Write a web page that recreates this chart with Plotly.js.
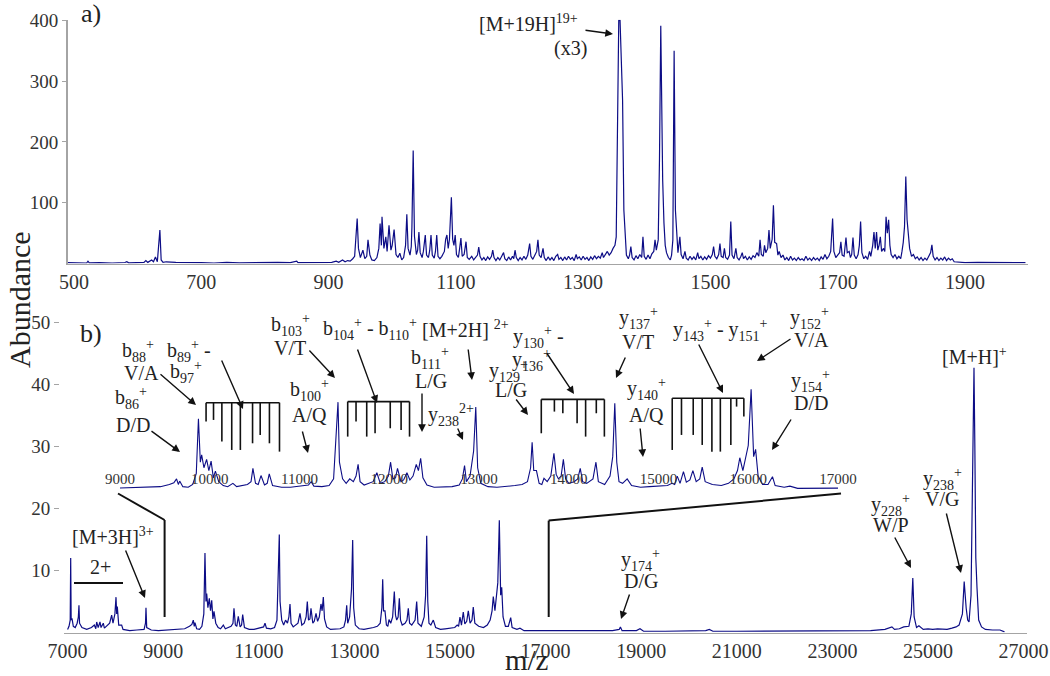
<!DOCTYPE html>
<html>
<head>
<meta charset="utf-8">
<script src="https://cdn.plot.ly/plotly-3.0.1.min.js"></script>
<style>
  html, body { margin: 0; padding: 0; background: #fff; }
  #plot { width: 1050px; height: 676px; }
</style>
</head>
<body>
<div id="plot"></div>
<script>
// a) low mass region, [m/z, abundance]
const topSpectrum = [
  [490,1.5],[500,1.2],[510,1.8],[520,1],[522,4],[524,1.2],[540,1.5],[560,1],[580,1.8],[583,3],
  [586,1.2],[600,1.5],[610,2],[613,5],[616,2],[622,6],[625,3],[628,11],[631,3],[635,55],
  [637,6],[640,2],[645,3],[660,2],[680,1.2],[700,1.5],[720,1],[740,2],[760,1.2],[780,1.8],
  [800,1.2],[820,2],[840,1.5],[850,4],[852,1.5],[870,2],[890,1.5],[900,3],[905,2],[912,4],
  [916,2],[922,6],[926,3],[930,5],[934,4],[938,8],[941,12],[945,74],[947,25],[950,10],
  [954,22],[957,8],[960,12],[962,39],[965,14],[968,6],[972,5],[976,10],[979,25],[981,66],
  [983,30],[984,77],[987,25],[990,44],[992,20],[995,63],[998,22],[1000,30],[1003,56],[1006,15],
  [1009,10],[1012,17],[1015,6],[1018,10],[1021,30],[1023,81],[1025,25],[1028,14],[1030,28],[1031,60],
  [1033,186],[1035,45],[1038,15],[1040,22],[1042,52],[1044,18],[1047,10],[1049,20],[1052,47],[1054,14],
  [1057,10],[1059,22],[1061,47],[1063,14],[1066,9],[1068,20],[1070,47],[1072,12],[1075,8],[1078,12],
  [1082,20],[1084,40],[1086,47],[1088,25],[1090,40],[1093,109],[1095,40],[1097,30],[1099,47],[1101,15],
  [1104,10],[1106,25],[1108,42],[1110,12],[1113,15],[1116,36],[1118,10],[1121,7],[1125,12],[1128,6],
  [1131,10],[1134,14],[1136,27],[1138,12],[1141,6],[1144,10],[1147,5],[1150,11],[1153,7],[1156,12],
  [1158,22],[1160,10],[1163,5],[1166,10],[1169,6],[1172,12],[1175,18],[1177,8],[1180,5],[1183,11],
  [1186,6],[1189,12],[1191,8],[1193,22],[1195,10],[1198,5],[1201,10],[1204,6],[1207,12],[1210,7],
  [1213,14],[1216,33],[1218,12],[1221,7],[1224,13],[1227,20],[1229,39],[1231,14],[1234,10],[1237,25],
  [1239,10],[1242,5],[1245,11],[1248,6],[1251,10],[1254,5],[1257,12],[1260,15],[1262,7],[1265,10],
  [1268,5],[1271,11],[1274,6],[1277,12],[1280,7],[1283,10],[1286,5],[1289,15],[1291,8],[1294,11],
  [1297,6],[1300,12],[1303,7],[1306,10],[1309,5],[1312,11],[1315,7],[1318,13],[1321,8],[1324,12],
  [1327,9],[1330,18],[1332,10],[1335,14],[1338,20],[1341,14],[1344,18],[1347,25],[1350,30],[1352,44],
  [1354,247],[1356,400],[1358,400],[1360,324],[1362,269],[1364,88],[1366,40],[1368,14],[1371,8],[1373,14],
  [1375,28],[1377,10],[1380,6],[1383,13],[1386,8],[1389,15],[1392,10],[1394,44],[1396,12],[1399,7],
  [1402,14],[1405,8],[1408,16],[1411,20],[1413,39],[1415,22],[1418,39],[1420,173],[1422,391],[1424,192],
  [1425,137],[1427,67],[1429,30],[1431,18],[1434,10],[1437,6],[1439,14],[1441,39],[1442,170],[1443,350],
  [1445,88],[1447,40],[1449,18],[1452,44],[1454,15],[1457,8],[1460,20],[1462,9],[1465,6],[1468,12],
  [1471,7],[1474,11],[1477,6],[1480,18],[1482,8],[1485,12],[1488,6],[1491,11],[1494,7],[1497,13],
  [1500,9],[1503,15],[1505,28],[1507,12],[1510,8],[1513,15],[1515,33],[1517,12],[1520,10],[1522,25],
  [1524,10],[1527,7],[1530,14],[1532,69],[1534,14],[1537,8],[1540,25],[1542,10],[1545,6],[1548,12],
  [1550,18],[1552,8],[1555,12],[1558,6],[1561,11],[1564,7],[1567,13],[1570,10],[1573,18],[1576,12],
  [1578,39],[1580,15],[1583,12],[1585,30],[1587,18],[1590,25],[1592,55],[1594,25],[1597,40],[1599,96],
  [1601,35],[1604,33],[1606,14],[1608,20],[1611,10],[1614,14],[1617,6],[1620,10],[1623,5],[1626,12],
  [1629,6],[1632,9],[1635,5],[1638,10],[1641,6],[1644,8],[1647,5],[1650,12],[1653,6],[1656,9],
  [1659,5],[1662,10],[1665,6],[1668,9],[1671,5],[1674,11],[1677,7],[1680,15],[1683,8],[1686,12],
  [1689,20],[1692,74],[1694,20],[1697,10],[1700,14],[1703,18],[1705,36],[1707,14],[1710,12],[1713,43],
  [1715,18],[1718,20],[1720,10],[1722,15],[1724,43],[1726,14],[1729,8],[1732,15],[1734,30],[1736,69],
  [1738,18],[1741,8],[1744,12],[1747,7],[1750,20],[1752,12],[1755,30],[1757,52],[1759,25],[1761,52],
  [1763,22],[1765,30],[1767,44],[1769,20],[1772,25],[1774,20],[1776,77],[1778,50],[1780,72],[1782,30],
  [1784,15],[1787,10],[1790,15],[1793,8],[1796,12],[1799,8],[1801,20],[1803,35],[1805,61],[1807,143],
  [1809,72],[1811,40],[1813,25],[1816,12],[1819,15],[1822,8],[1825,11],[1828,6],[1831,10],[1834,5],
  [1837,9],[1840,6],[1843,11],[1846,18],[1848,31],[1850,12],[1853,6],[1856,10],[1859,5],[1862,9],
  [1865,6],[1868,11],[1871,5],[1874,9],[1877,6],[1880,8],[1883,3],[1890,2],[1900,1.5],[1920,2],
  [1940,1.5],[1960,2],[1980,1.5],[1995,1.5]
];

// b) high mass region, [m/z, abundance]
const bottomSpectrum = [
  [7000,0.5],[7030,1],[7055,2],[7065,12],[7075,2],[7092,2.3],[7120,1],[7160,0.8],[7200,1.5],[7225,2.5],
  [7238,4.4],[7250,1.5],[7300,0.8],[7400,0.5],[7500,0.8],[7560,1.2],[7590,0.6],[7609,1.7],[7640,0.8],[7678,1.7],
  [7700,0.8],[7747,1.5],[7770,0.7],[7820,1],[7880,1.5],[7922,2.8],[7950,1.5],[7990,3],[8013,5.7],[8027,3],
  [8040,4.2],[8070,1.2],[8131,1.2],[8160,0.5],[8300,0.3],[8450,0.4],[8600,0.5],[8630,1.5],[8640,4],[8655,0.8],
  [8750,0.4],[8900,0.3],[9100,0.4],[9300,0.5],[9450,0.6],[9550,1],[9600,1.3],[9630,2],[9650,1],[9665,1.6],
  [9700,0.6],[9760,0.5],[9810,1],[9850,3],[9874,12.8],[9895,5],[9910,6.3],[9935,4],[9965,5.5],[9990,3.5],
  [10015,5.2],[10040,2.2],[10063,3.4],[10100,1.5],[10150,0.8],[10200,0.6],[10258,1.2],[10300,0.6],[10350,0.8],[10420,1],
  [10460,1.5],[10481,3.9],[10510,1.2],[10540,1],[10571,2.6],[10610,0.9],[10640,1.2],[10663,2.9],[10700,0.8],[10800,0.5],
  [10900,0.5],[11000,0.7],[11100,0.9],[11130,1.5],[11160,0.7],[11250,0.6],[11330,0.8],[11380,2],[11400,7],[11408,10.6],
  [11429,15.8],[11445,5],[11480,2],[11520,1.2],[11560,2],[11600,1.5],[11630,2.5],[11653,4.6],[11675,1.5],[11720,0.9],
  [11780,1.2],[11820,1.5],[11862,3.1],[11900,1.2],[11950,1.5],[11990,2.5],[12015,5],[12040,2],[12070,2.2],[12092,3.9],
  [12130,1.5],[12160,1.8],[12197,3.1],[12230,1.8],[12265,2.5],[12301,4.6],[12325,3.5],[12350,5.7],[12375,2.2],[12420,0.9],
  [12500,0.5],[12600,0.5],[12700,0.6],[12780,0.9],[12815,2],[12839,4.4],[12860,1.5],[12900,2.5],[12940,7],[12964,14.9],
  [12985,4],[13020,1.2],[13100,0.6],[13200,0.5],[13300,0.6],[13400,0.8],[13480,1],[13540,1.5],[13575,4],[13592,8.6],
  [13610,3.5],[13640,3.5],[13670,1.2],[13700,1],[13724,2.1],[13760,1.5],[13800,2.5],[13835,6.6],[13860,2.8],[13885,2],
  [13915,2.5],[13940,5.5],[13965,2],[14000,1.2],[14060,1.5],[14100,2],[14128,3.9],[14155,1.5],[14200,1.2],[14270,2],
  [14303,5],[14330,1.5],[14400,1],[14460,2.5],[14490,6],[14513,15.6],[14535,5],[14560,1.5],[14600,1.2],[14651,2],
  [14700,0.8],[14800,0.5],[14900,0.6],[15000,0.7],[15100,0.8],[15150,1.2],[15180,1],[15209,2.5],[15240,1.2],[15278,3.3],
  [15310,1.4],[15350,1.8],[15383,3.5],[15420,1.5],[15460,2],[15487,4.1],[15520,1.5],[15600,1],[15700,0.8],[15780,1.2],
  [15840,2],[15880,3.5],[15906,5.8],[15940,3.5],[15977,6.3],[16000,8],[16032,18.1],[16060,6],[16082,7.3],[16110,2.5],
  [16160,1],[16220,1],[16270,2.4],[16300,0.8],[16400,0.5],[16464,0.7],[16550,0.3],[16700,0.3],[16900,0.3],[17100,0.2],
  [17500,0.2],[18000,0.2],[18400,0.3],[18540,0.5],[18565,0.9],[18600,0.3],[18900,0.3],[18975,0.6],[19050,0.2],[19500,0.2],
  [20000,0.2],[20350,0.3],[20425,0.5],[20500,0.2],[21000,0.2],[22000,0.2],[23000,0.2],[23800,0.3],[24100,0.5],[24245,0.9],
  [24300,0.5],[24400,0.6],[24492,0.9],[24600,1],[24650,3],[24682,8.8],[24710,2.5],[24760,0.8],[24810,1.1],[24900,0.5],
  [25000,0.6],[25100,0.5],[25200,0.6],[25270,0.6],[25400,0.5],[25500,0.7],[25588,0.9],[25650,1.2],[25720,3],[25757,8.2],
  [25780,5],[25799,3.9],[25830,2],[25858,1.7],[25900,6],[25925,20],[25945,35],[25962,42.7],[25980,30],[26000,12],
  [26025,7.2],[26060,2],[26120,0.9],[26200,0.5],[26350,0.4],[26506,0.4],[26600,0.1]
];

// fragment ladders drawn over the inset: m/z of each rung, its lower end, and the bar level
const ladderB89 = [9959,10042,10135,10245,10341,10477,10562,10665,10777];
const ladderB89Low = [12.3,12.6,8.7,7.2,7.2,8.4,9.9,8.4,6.9];
const ladderB104 = [11537,11630,11749,11842,12011,12132,12226];
const ladderB104Low = [9.6,12.3,9.6,10.2,11.1,10.8,9.6];
const ladderY130 = [13694,13840,13934,14093,14188,14307,14397];
const ladderY130Low = [10.2,14.1,13.8,12,9.6,13.8,9.6];
const ladderY143 = [15153,15256,15387,15487,15595,15689,15806,15870,15951];
const ladderY143Low = [7.2,9.9,9.9,8.1,6.9,6.9,8.1,15,13.2];
const ladderTops = [15.7, 15.9, 16.3, 16.5];

const topTicks = [500,700,900,1100,1300,1500,1700,1900];
const bottomTicks = [7000,9000,11000,13000,15000,17000,19000,21000,23000,25000,27000];
const insetTicks = [9000,10000,11000,12000,13000,14000,15000,16000,17000];

const W = 1050, H = 676;
const px = x => x / W;
const py = y => 1 - y / H;
const navy = '#0d0d86';
const grey = '#a4a4a4';
const serif = 'Liberation Serif';

// build ladder line (bar on top, rungs hanging down)
let ladX = [], ladY = [];
[[ladderB89, ladderB89Low], [ladderB104, ladderB104Low], [ladderY130, ladderY130Low], [ladderY143, ladderY143Low]]
  .forEach(([mz, low], k) => {
    let top = ladderTops[k];
    ladX.push(mz[0], mz[mz.length - 1], null);
    ladY.push(top, top, null);
    for (let i = 0; i < mz.length; i++) {
      ladX.push(mz[i], mz[i], null);
      ladY.push(top, low[i], null);
    }
  });

let data = [
  {x: topSpectrum.map(p => p[0]), y: topSpectrum.map(p => p[1]), xaxis: 'x', yaxis: 'y',
   type: 'scatter', mode: 'lines', line: {color: navy, width: 1.2}, hoverinfo: 'skip'},
  {x: bottomSpectrum.map(p => p[0]), y: bottomSpectrum.map(p => p[1]), xaxis: 'x2', yaxis: 'y2',
   type: 'scatter', mode: 'lines', line: {color: navy, width: 1.2}, hoverinfo: 'skip'},
  {x: bottomSpectrum.map(p => p[0]), y: bottomSpectrum.map(p => p[1]), xaxis: 'x3', yaxis: 'y3',
   type: 'scatter', mode: 'lines', line: {color: navy, width: 1.1}, hoverinfo: 'skip'},
  {x: ladX, y: ladY, xaxis: 'x3', yaxis: 'y3', type: 'scatter', mode: 'lines',
   line: {color: '#111', width: 1.6}, hoverinfo: 'skip'}
];

// text labels: [text, x px, y px]
const labels = [
  ['[M+19H]<sup>19+</sup>', 528, 23], ['(x3)', 570, 49],
  ['b<sub>88</sub><sup>+</sup>', 138, 351], ['V/A', 141, 373],
  ['b<sub>89</sub><sup>+</sup> -', 189, 351], ['b<sub>97</sub><sup>+</sup>', 186, 372],
  ['b<sub>86</sub><sup>+</sup>', 131, 398], ['D/D', 133, 425],
  ['b<sub>103</sub><sup>+</sup>', 290, 325], ['V/T', 290, 348],
  ['b<sub>100</sub><sup>+</sup>', 309, 390], ['A/Q', 309, 415],
  ['b<sub>104</sub><sup>+</sup> - b<sub>110</sub><sup>+</sup>', 370, 329],
  ['[M+2H] <sup>2+</sup>', 465, 329],
  ['b<sub>111</sub><sup>+</sup>', 430, 358], ['L/G', 431, 381],
  ['y<sub>238</sub><sup>2+</sup>', 451, 415],
  ['y<sub>129</sub><sup>+</sup>', 508, 371], ['L/G', 511, 390],
  ['y<sub>130</sub><sup>+</sup> -', 538, 337], ['y<sub>136</sub><sup>+</sup>', 531, 360],
  ['y<sub>137</sub><sup>+</sup>', 638, 318], ['V/T', 638, 342],
  ['y<sub>140</sub><sup>+</sup>', 646, 389], ['A/Q', 646, 415],
  ['y<sub>143</sub><sup>+</sup> - y<sub>151</sub><sup>+</sup>', 720, 330],
  ['y<sub>152</sub><sup>+</sup>', 809, 318], ['V/A', 811, 340],
  ['y<sub>154</sub><sup>+</sup>', 810, 381], ['D/D', 811, 403],
  ['[M+H]<sup>+</sup>', 974, 356],
  ['y<sub>238</sub><sup>+</sup>', 942, 479], ['V/G', 942, 499],
  ['y<sub>228</sub><sup>+</sup>', 890, 505], ['W/P', 891, 525],
  ['y<sub>174</sub><sup>+</sup>', 640, 560], ['D/G', 641, 581],
  ['[M+3H]<sup>3+</sup>', 113, 536], ['2+', 100, 567]
];

// arrows: [tail x, tail y, head x, head y] in px
const arrows = [
  [584,30,613,34], [159,373,196,405], [221,359,243,409], [150,430,180,452],
  [308,349,335,378], [302,430,308,453], [357,348,377,403], [468,348,472,380],
  [422,392,422,432], [457,427,463,440], [515,398,528,415], [546,352,574,394],
  [626,356,616,378], [640,427,643,457], [698,343,723,393], [792,338,757,361],
  [792,418,772,450], [946,512,961,573], [894,536,911,568], [630,593,621,619],
  [125,549,145,598]
];

let annotations = labels.map(l => ({
  text: l[0], x: px(l[1]), y: py(l[2]), xref: 'paper', yref: 'paper',
  xanchor: 'center', yanchor: 'middle', showarrow: false,
  font: {family: serif, size: 20, color: '#222'}
}));
arrows.forEach(a => annotations.push({
  text: '', x: px(a[2]), y: py(a[3]), xref: 'paper', yref: 'paper',
  ax: a[0] - a[2], ay: a[1] - a[3], axref: 'pixel', ayref: 'pixel',
  showarrow: true, arrowhead: 2, arrowsize: 1.1, arrowwidth: 1.4, arrowcolor: '#111'
}));
annotations.push(
  {text: 'a)', x: px(91), y: py(14), xref: 'paper', yref: 'paper', showarrow: false,
   xanchor: 'center', yanchor: 'middle', font: {family: serif, size: 26, color: '#222'}},
  {text: 'b)', x: px(91), y: py(333), xref: 'paper', yref: 'paper', showarrow: false,
   xanchor: 'center', yanchor: 'middle', font: {family: serif, size: 26, color: '#222'}},
  {text: 'Abundance', x: px(19), y: py(300), xref: 'paper', yref: 'paper', showarrow: false,
   xanchor: 'center', yanchor: 'middle', textangle: -90,
   font: {family: serif, size: 30, color: '#222'}},
  {text: 'm/z', x: px(527), y: py(660), xref: 'paper', yref: 'paper', showarrow: false,
   xanchor: 'center', yanchor: 'middle', font: {family: serif, size: 29, color: '#222'}}
);

// connector lines from the inset to the main trace, and the 2+ bar
const seg = (x0, y0, x1, y1) => ({type: 'line', xref: 'paper', yref: 'paper',
  x0: px(x0), y0: py(y0), x1: px(x1), y1: py(y1), line: {color: '#111', width: 2}});
let shapes = [
  seg(118, 493.5, 164.6, 520), seg(164.6, 520, 164.6, 617),
  seg(841, 493.5, 548.7, 520.6), seg(548.7, 520.6, 548.7, 617),
  seg(74, 583, 123, 583)
];

let axisFont = {family: serif, size: 20, color: '#333'};
let layout = {
  width: W, height: H,
  margin: {l: 0, r: 0, t: 0, b: 0},
  paper_bgcolor: '#fff', plot_bgcolor: 'rgba(0,0,0,0)',
  showlegend: false,
  font: {family: serif, color: '#222'},
  xaxis: {domain: [px(67.6), px(1028)], range: [490, 1999], anchor: 'y',
    tickvals: topTicks, tickformat: 'd', showline: true, linecolor: grey, linewidth: 1.5, ticks: '',
    showgrid: false, zeroline: false, tickfont: axisFont},
  yaxis: {domain: [py(263.6), py(19.7)], range: [0, 401], anchor: 'x',
    tickvals: [100, 200, 300, 400], showline: true, linecolor: grey, linewidth: 1.5,
    ticks: 'outside', ticklen: 4, tickcolor: grey, showgrid: false, zeroline: false,
    tickfont: {family: serif, size: 19, color: '#333'}},
  xaxis2: {domain: [px(64), px(1027)], range: [6925, 27071], anchor: 'y2',
    tickvals: bottomTicks, tickformat: 'd', showline: true, linecolor: grey, linewidth: 1.5, ticks: '',
    showgrid: false, zeroline: false, tickfont: axisFont},
  yaxis2: {domain: [py(632.5), py(310)], range: [0, 52], anchor: 'free', position: px(59),
    tickvals: [10, 20, 30, 40, 50], showline: false, ticks: 'outside', ticklen: 5,
    tickcolor: grey, showgrid: false, zeroline: false,
    tickfont: {family: serif, size: 19, color: '#333'}},
  xaxis3: {domain: [px(120), px(838)], range: [9000, 17000], anchor: 'y3',
    tickvals: insetTicks, tickformat: 'd', ticklabelposition: 'inside', ticklabeloverflow: 'allow',
    showline: false, ticks: '', showgrid: false, zeroline: false,
    tickfont: {family: serif, size: 15, color: '#333'}},
  yaxis3: {domain: [py(490), py(376)], range: [0, 20.5], anchor: 'x3', visible: false},
  annotations: annotations,
  shapes: shapes
};

Plotly.newPlot('plot', data, layout, {staticPlot: true});
</script>
</body>
</html>
